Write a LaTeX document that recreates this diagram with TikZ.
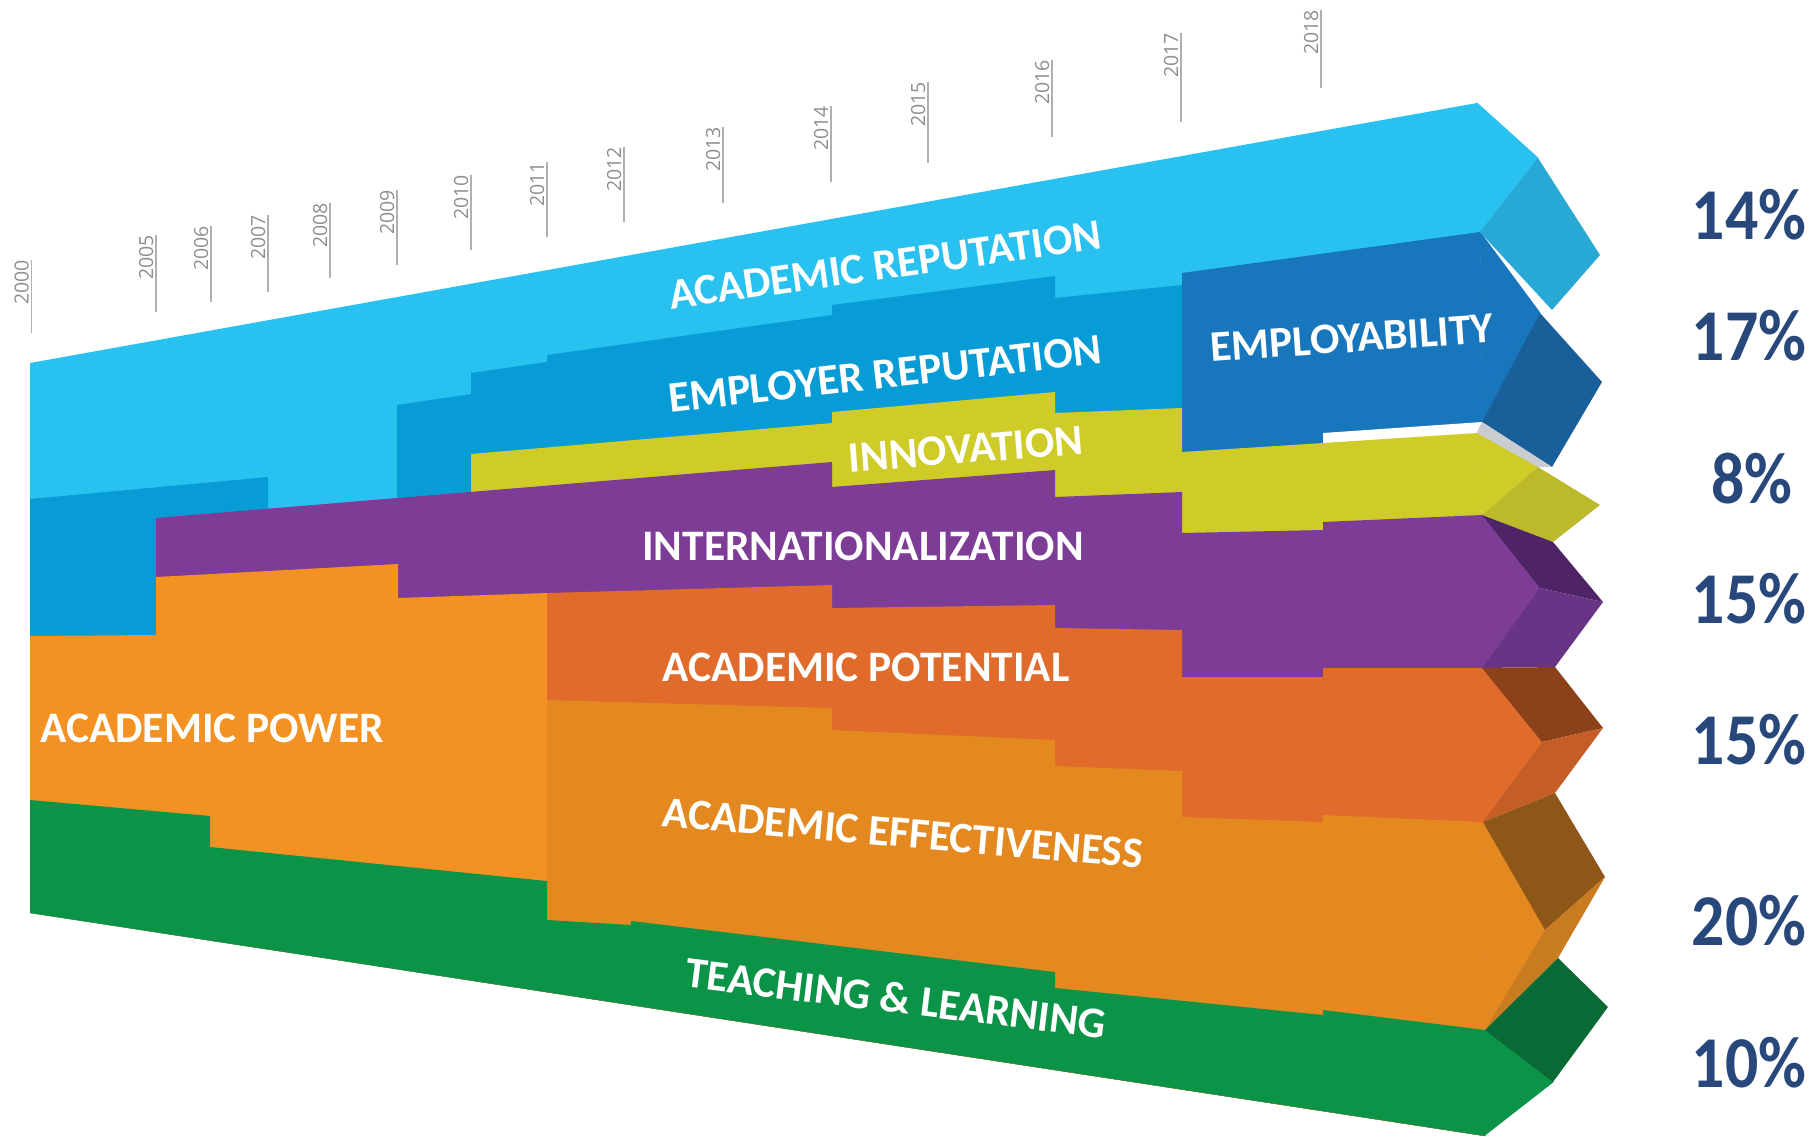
\documentclass[tikz,border=0pt]{standalone}
\usepackage{fontspec}
\setmainfont{Carlito}
\newfontfamily\yearfont{Open Sans}
\newfontfamily\pctfont[FakeStretch=0.9]{Carlito}
\definecolor{cRep}{HTML}{28C1F0}
\definecolor{cEmp}{HTML}{089CD6}
\definecolor{cEmpl}{HTML}{1876BD}
\definecolor{cInn}{HTML}{CFCC2A}
\definecolor{cInt}{HTML}{7D3C96}
\definecolor{cPow}{HTML}{F39222}
\definecolor{cPot}{HTML}{E06B2B}
\definecolor{cEff}{HTML}{E3891F}
\definecolor{cTL}{HTML}{0B9348}
\definecolor{fRep}{HTML}{28A8D5}
\definecolor{fEmpl}{HTML}{19609A}
\definecolor{fInn}{HTML}{BCB92B}
\definecolor{fIntU}{HTML}{4E2466}
\definecolor{fIntL}{HTML}{6A3486}
\definecolor{fPotU}{HTML}{8B421B}
\definecolor{fPotL}{HTML}{C45D26}
\definecolor{fEffU}{HTML}{8E5617}
\definecolor{fEffL}{HTML}{C87B1F}
\definecolor{fTLU}{HTML}{096A35}
\definecolor{sliver}{HTML}{C9CDD2}
\definecolor{pctblue}{HTML}{28487C}
\definecolor{yeargray}{HTML}{8E8E8E}
\definecolor{tickgray}{HTML}{B0B0B0}
\tikzset{
  band/.style={fill=#1, draw=none},
  tip/.style={fill=#1, draw=#1, line width=0.8pt, line join=round},
  lbl/.style={text=white, font=\bfseries\fontsize{43.5}{43.5}\selectfont, inner sep=0pt},
  pct/.style={text=pctblue, font=\pctfont\bfseries\fontsize{73}{73}\selectfont, inner sep=0pt},
  yr/.style={rotate=90, anchor=base east, text=yeargray, font=\yearfont\fontsize{19.5}{19.5}\selectfont, inner sep=0pt},
  tickline/.style={draw=tickgray, line width=1.4pt},
}
\begin{document}
\begin{tikzpicture}[x=1pt,y=-1pt]
\useasboundingbox (0,0) rectangle (1813,1136);

% year ticks
\foreach \yy/\xx/\tt/\bb in {2000/31.7/260/333, 2005/156/235/312, 2006/211/226/302, 2007/268/215/292, 2008/330/203/278, 2009/397/190/265, 2010/471/175/250, 2011/547/162/237, 2012/624/147/222, 2013/723/127/203, 2014/831/106/182, 2015/928/82/163, 2016/1052/60/137, 2017/1181/33/122, 2018/1321/10/88}{
  \node[yr] (y\yy) at (\xx-3,\tt) {\yy};
  \draw[tickline] (\xx,\tt) -- (\xx,\bb);
}

% bands (painter's order, clipped to the front silhouette)
\begin{scope}
\clip (30,363) -- (1477,103) -- (1480,232) -- (1482,422) -- (1477,433) -- (1482,515) -- (1482,668) -- (1483,822) -- (1485,1030) -- (1485,1136) -- (30,913) -- cycle;
% academic reputation
\fill[band=cRep] (30,363) -- (1477,103) -- (1500,103) -- (1500,1140) -- (30,1140) -- cycle;
% employer reputation
\fill[band=cEmp] (30,499) -- (268,477) -- (268,1140) -- (30,1140) -- cycle;
\fill[band=cEmp] (397,405) -- (471,394) -- (471,373) -- (547,362) -- (547,355) -- (832,315) -- (832,305) -- (1055,276) -- (1055,298) -- (1182,285) -- (1182,1140) -- (397,1140) -- cycle;
% employability
\fill[band=cEmpl] (1182,273) -- (1480,232) -- (1500,232) -- (1500,1140) -- (1182,1140) -- cycle;
% white gap under employability
\fill[white] (1323,433) -- (1482,422) -- (1500,422) -- (1500,1140) -- (1323,1140) -- cycle;
% innovation
\fill[band=cInn] (471,454) -- (832,423) -- (832,412) -- (1055,392) -- (1055,413) -- (1182,408) -- (1182,452) -- (1323,443) -- (1477,433) -- (1500,433) -- (1500,1140) -- (471,1140) -- cycle;
% internationalization
\fill[band=cInt] (156,518) -- (832,462) -- (832,487) -- (1055,470) -- (1055,497) -- (1182,492) -- (1182,533) -- (1323,530) -- (1323,522) -- (1482,515) -- (1500,515) -- (1500,1140) -- (156,1140) -- cycle;
% academic power
\fill[band=cPow] (30,636) -- (156,635) -- (156,577) -- (398,564) -- (398,598) -- (547,593) -- (547,1140) -- (30,1140) -- cycle;
% academic potential
\fill[band=cPot] (547,593) -- (832,585) -- (832,608) -- (1055,605) -- (1055,628) -- (1182,630) -- (1182,677) -- (1323,677) -- (1323,668) -- (1482,668) -- (1500,668) -- (1500,1140) -- (547,1140) -- cycle;
% academic effectiveness
\fill[band=cEff] (547,700) -- (832,708) -- (832,730) -- (1055,740) -- (1055,766) -- (1182,771) -- (1182,817) -- (1323,822) -- (1323,815) -- (1483,822) -- (1500,822) -- (1500,1140) -- (547,1140) -- cycle;
% teaching & learning
\fill[band=cTL] (30,800) -- (210,816) -- (210,847) -- (547,881) -- (547,920) -- (631,925) -- (631,921) -- (1055,972) -- (1055,988) -- (1323,1015) -- (1323,1010) -- (1485,1030) -- (1500,1030) -- (1500,1140) -- (30,1140) -- cycle;
\end{scope}

% arrow heads: front chevrons
\filldraw[tip=cRep] (1477,103) -- (1538,158) -- (1480,232) -- cycle;
\filldraw[tip=cEmpl] (1480,232) -- (1540,313) -- (1482,422) -- cycle;
\filldraw[tip=cInn] (1477,433) -- (1538,467) -- (1482,515) -- cycle;
\filldraw[tip=cInt] (1482,515) -- (1540,588) -- (1482,668) -- cycle;
\filldraw[tip=cPot] (1482,668) -- (1542,742) -- (1483,822) -- cycle;
\filldraw[tip=cEff] (1483,822) -- (1545,930) -- (1485,1030) -- cycle;
\filldraw[tip=cTL] (1485,1030) -- (1553,1082) -- (1485,1135) -- cycle;

% arrow heads: side facets
\fill[band=fRep] (1538,158) -- (1600,255) -- (1552,310) -- (1480,232) -- cycle;
\fill[band=fEmpl] (1540,313) -- (1602,382) -- (1552,467) -- (1482,422) -- cycle;
\fill[band=sliver] (1482,422) -- (1552,467) -- (1538,467) -- (1477,433) -- cycle;
\fill[band=fInn] (1538,467) -- (1600,505) -- (1553,542) -- (1482,515) -- cycle;
\fill[band=fIntU] (1482,515) -- (1553,542) -- (1603,602) -- (1540,588) -- cycle;
\fill[band=fIntL] (1540,588) -- (1603,602) -- (1555,667) -- (1482,668) -- cycle;
\fill[band=fPotU] (1482,668) -- (1555,667) -- (1603,728) -- (1542,742) -- cycle;
\fill[band=fPotL] (1542,742) -- (1603,728) -- (1555,793) -- (1483,822) -- cycle;
\fill[band=fEffU] (1483,822) -- (1555,793) -- (1605,877) -- (1545,930) -- cycle;
\fill[band=fEffL] (1545,930) -- (1605,877) -- (1558,958) -- (1485,1030) -- cycle;
\fill[band=fTLU] (1485,1030) -- (1558,958) -- (1608,1007) -- (1553,1082) -- cycle;

% band labels
\node[lbl, rotate=8] (acrep) at (885,265) {ACADEMIC REPUTATION};
\node[lbl, rotate=6.5] (emprep) at (885,374) {EMPLOYER REPUTATION};
\node[lbl, rotate=4] (empl) at (1352,338) {EMPLOYABILITY};
\node[lbl, rotate=4.5] (innov) at (966,449) {INNOVATION};
\node[lbl] (intl) at (863,546) {INTERNATIONALIZATION};
\node[lbl] (acpot) at (866,667) {ACADEMIC POTENTIAL};
\node[lbl, anchor=west] (acpow) at (40,728) {ACADEMIC POWER};
\node[lbl, rotate=-5] (aceff) at (903,833) {ACADEMIC EFFECTIVENESS};
\node[lbl, rotate=-7] (teach) at (896,998) {TEACHING \& LEARNING};

% percentages
\node[pct] (p1) at (1749,215) {14\%};
\node[pct] (p2) at (1749,336) {17\%};
\node[pct] (p3) at (1752,479) {8\%};
\node[pct] (p4) at (1749,599) {15\%};
\node[pct] (p5) at (1749,740) {15\%};
\node[pct] (p6) at (1749,921) {20\%};
\node[pct] (p7) at (1749,1063) {10\%};
\end{tikzpicture}
\end{document}
